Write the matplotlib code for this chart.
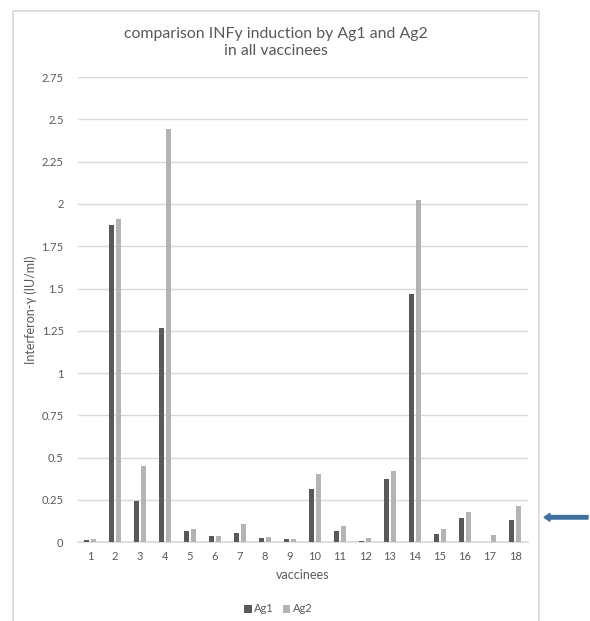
import matplotlib
matplotlib.use("Agg")
import matplotlib.pyplot as plt
from matplotlib.patches import Rectangle, FancyArrow
import numpy as np

plt.rcParams['font.family'] = ['Lato', 'DejaVu Sans']

vaccinees = [str(i) for i in range(1, 19)]
ag1 = [0.016, 1.875, 0.245, 1.265, 0.069, 0.038, 0.053, 0.024, 0.022, 0.316,
       0.067, 0.008, 0.375, 1.470, 0.047, 0.142, 0.0, 0.130]
ag2 = [0.022, 1.910, 0.453, 2.445, 0.079, 0.038, 0.111, 0.032, 0.020, 0.401,
       0.097, 0.024, 0.419, 2.025, 0.079, 0.180, 0.043, 0.217]
yticks = [0, 0.25, 0.5, 0.75, 1, 1.25, 1.5, 1.75, 2, 2.25, 2.5, 2.75]
ytick_labels = ['0', '0.25', '0.5', '0.75', '1', '1.25', '1.5', '1.75', '2', '2.25', '2.5', '2.75']

W, H = 590, 621
fig = plt.figure(figsize=(W / 100, H / 100), dpi=100)

# chart frame
fig.patches.append(Rectangle((12.5 / W, -0.01), (539 - 12.5) / W, (H - 11) / H + 0.01,
                             transform=fig.transFigure, fill=False,
                             edgecolor='#D9D9D9', linewidth=1.2))

ax = fig.add_axes([77.5 / W, (H - 542.3) / H, 450 / W, (542.3 - 77) / H])
x = np.arange(len(vaccinees))
bw = 0.22
off = 0.14
ax.bar(x - off, ag1, bw, color='#595959', label='Ag1', zorder=3)
ax.bar(x + off, ag2, bw, color='#B4B4B4', label='Ag2', zorder=3)

ax.set_xlim(-0.5, len(vaccinees) - 0.5)
ax.set_ylim(0, 2.75)
ax.set_yticks(yticks)
ax.set_yticklabels(ytick_labels)
ax.set_xticks(x)
ax.set_xticklabels(vaccinees)
ax.grid(axis='y', color='#D9D9D9', linewidth=1, zorder=0)
for s in ['top', 'right', 'left']:
    ax.spines[s].set_visible(False)
ax.spines['bottom'].set_color('#D9D9D9')
ax.spines['bottom'].set_linewidth(1.2)
ax.tick_params(axis='both', length=0, colors='#595959', labelsize=8)
ax.tick_params(axis='y', pad=10)
ax.tick_params(axis='x', pad=6)
ax.set_facecolor('none')

ax.set_xlabel('vaccinees', color='#595959', fontsize=9, labelpad=5)
ax.set_ylabel('Interferon-γ (IU/ml)', color='#595959', fontsize=9, labelpad=3)

fig.text(276 / W, 1 - 42.5 / H, 'comparison INFy induction by Ag1 and Ag2\nin all vaccinees',
         ha='center', va='center', fontsize=11.4, color='#595959', linespacing=1.3)

leg = fig.legend(loc='center', bbox_to_anchor=(278 / W, 1 - 609 / H), ncol=2, frameon=False,
                 fontsize=8, handlelength=0.7, handleheight=0.7, handletextpad=0.2,
                 columnspacing=0.8, labelcolor='#595959')

fig.patches.append(FancyArrow(588 / W, 1 - 517.3 / H, -44 / W, 0, width=3.5 / H,
                              head_width=8 / H, head_length=6 / W, length_includes_head=True,
                              transform=fig.transFigure, color='#41729F'))

fig.savefig('out.png', dpi=100)
